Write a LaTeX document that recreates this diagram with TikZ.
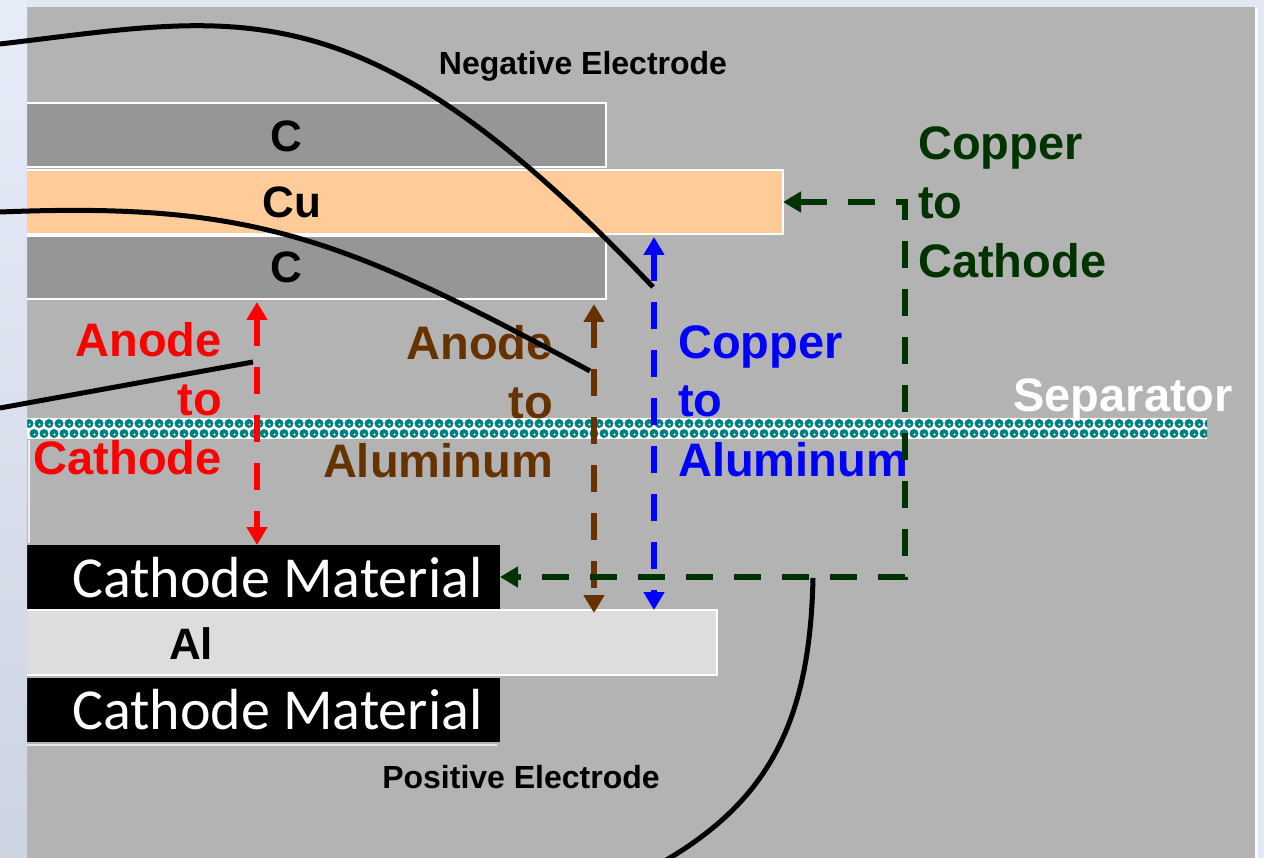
\documentclass[tikz,border=0pt]{standalone}
\usepackage{fontspec}
\setmainfont{Liberation Sans}
\newfontfamily\carlfont{Carlito}
\usetikzlibrary{arrows.meta}
\definecolor{bgblue}{HTML}{E2E8F4}
\definecolor{lefttop}{HTML}{E6ECF8}
\definecolor{leftbot}{HTML}{CDD4E1}
\definecolor{panelgray}{HTML}{B3B3B3}
\definecolor{cgray}{HTML}{969696}
\definecolor{copper}{HTML}{FFCC99}
\definecolor{alu}{HTML}{DDDDDD}
\definecolor{septeal}{HTML}{008080}
\definecolor{brownc}{HTML}{663300}
\definecolor{dgreen}{HTML}{003300}
\begin{document}
\begin{tikzpicture}[x=1pt,y=-1pt,
  layer/.style={draw=white, line width=2pt, inner sep=0pt, outer sep=0pt, anchor=north west},
  blackbox/.style={fill=black, inner sep=0pt, outer sep=0pt, anchor=north west},
  lbl/.style={inner sep=0pt, font=\fontsize{47}{56}\selectfont\bfseries},
  lyr/.style={inner sep=0pt, font=\fontsize{44}{52}\selectfont\bfseries, text=black, anchor=base},
  capt/.style={inner sep=0pt, font=\fontsize{32}{38}\selectfont\bfseries, text=black, anchor=base},
  cmat/.style={inner sep=0pt, font=\fontsize{58}{68}\carlfont, text=white, anchor=base west},
  dsh/.style={line width=6pt, dash pattern=on 27pt off 21pt,
    {Triangle[width=20pt,length=18pt]}-{Triangle[width=20pt,length=18pt]}},
  curve/.style={line width=5pt, black}
]
\useasboundingbox (0,0) rectangle (1264,858);
% background
\fill[bgblue] (0,0) rectangle (1264,858);
\fill[panelgray] (27,7) rectangle (1255,858);
\fill[white!85!bgblue] (1255,7) rectangle (1258,858);

% layers
\node[layer, fill=cgray, minimum width=596pt, minimum height=64pt] (c1) at (10,103) {};
\node[layer, fill=copper, minimum width=773pt, minimum height=64pt] (cu) at (10,170) {};
\node[layer, fill=cgray, minimum width=596pt, minimum height=63pt] (c2) at (10,236) {};
\node[layer, fill=alu, minimum width=707pt, minimum height=65pt] (al) at (10,610) {};
\draw[white!70!panelgray, line width=2pt] (27,745) -- (497,745);
\draw[white!80!panelgray, line width=2pt] (29,440) -- (29,543);
\node[blackbox, minimum width=473pt, minimum height=64pt] (cm1) at (27,545) {};
\node[blackbox, minimum width=473pt, minimum height=64pt] (cm2) at (27,678) {};

% separator
\begin{scope}
\clip (27,418) rectangle (1207,439);
\fill[white] (27,418) rectangle (1207,439);
\foreach \i in {0,...,118}{
  \fill[septeal] ({27+10*\i+2},423.5) circle (4.5pt);
  \fill[septeal] ({27+10*\i+7},433.5) circle (4.5pt);
  \fill[white] ({27+10*\i+2.5},424.5) circle (1.1pt);
  \fill[white] ({27+10*\i+7.5},434.5) circle (1.1pt);
}
\end{scope}

% left strip
\shade[top color=lefttop, bottom color=leftbot] (0,0) rectangle (27,858);

% layer texts
\node[lyr] (tc1) at (286,152) {C};
\node[lyr] (tcu) at (292,218) {Cu};
\node[lyr] (tc2) at (286,283) {C};
\node[lyr] (tal) at (191,659) {Al};
\node[cmat] (tcm1) at (72,597) {Cathode Material};
\node[cmat] (tcm2) at (72,729) {Cathode Material};
\node[capt] (neg) at (583,75) {Negative Electrode};
\node[capt] (pos) at (521,788) {Positive Electrode};
\node[lbl, text=white, anchor=base east] (sep) at (1233,412) {Separator};

% red label
\node[lbl, text=red, anchor=base east] (ra1) at (222,357) {Anode};
\node[lbl, text=red, anchor=base east] (ra2) at (222,416) {to};
\node[lbl, text=red, anchor=base east] (ra3) at (222,475) {Cathode};
% brown label
\node[lbl, text=brownc, anchor=base east] (ba1) at (553,360) {Anode};
\node[lbl, text=brownc, anchor=base east] (ba2) at (553,419) {to};
\node[lbl, text=brownc, anchor=base east] (ba3) at (553,478) {Aluminum};
% blue label
\node[lbl, text=blue, anchor=base west] (bl1) at (678,359) {Copper};
\node[lbl, text=blue, anchor=base west] (bl2) at (678,417) {to};
\node[lbl, text=blue, anchor=base west] (bl3) at (678,476) {Aluminum};
% green label
\node[lbl, text=dgreen, anchor=base west] (gl1) at (918,160) {Copper};
\node[lbl, text=dgreen, anchor=base west] (gl2) at (918,219) {to};
\node[lbl, text=dgreen, anchor=base west] (gl3) at (918,278) {Cathode};

% arrows
\coordinate (xr) at (257,0);
\coordinate (xbr) at (594,0);
\coordinate (xbl) at (654,0);
\coordinate (gx) at (905,0);
\draw[dsh, red, shorten <=3pt] (xr |- c2.south) -- (xr |- cm1.north);
\draw[dsh, brownc, shorten <=5pt, shorten >=-3pt] (xbr |- c2.south) -- (xbr |- al.north);
\draw[dsh, blue, shorten <=3pt] (xbl |- cu.south) -- (xbl |- al.north);
\draw[dsh, dgreen] (cu.east) -- (gx |- cu.east) -- (gx |- cm1.east) -- (cm1.east);

% black leader curves
\coordinate (k1) at (0,44);
\coordinate (k1e) at (653,287);
\coordinate (k2) at (0,212);
\coordinate (k2e) at (590,371);
\coordinate (k3) at (0,408);
\coordinate (k3e) at (253,362);
\coordinate (k4) at (813,578);
\coordinate (k4e) at (663,862);
\draw[curve] (k1) .. controls (240,16) and (360,-22) .. (k1e);
\draw[curve] (k2) .. controls (250,202) and (340,236) .. (k2e);
\draw[curve] (k3) -- (k3e);
\draw[curve] (k4) .. controls (810,720) and (770,800) .. (k4e);
\end{tikzpicture}
\end{document}
